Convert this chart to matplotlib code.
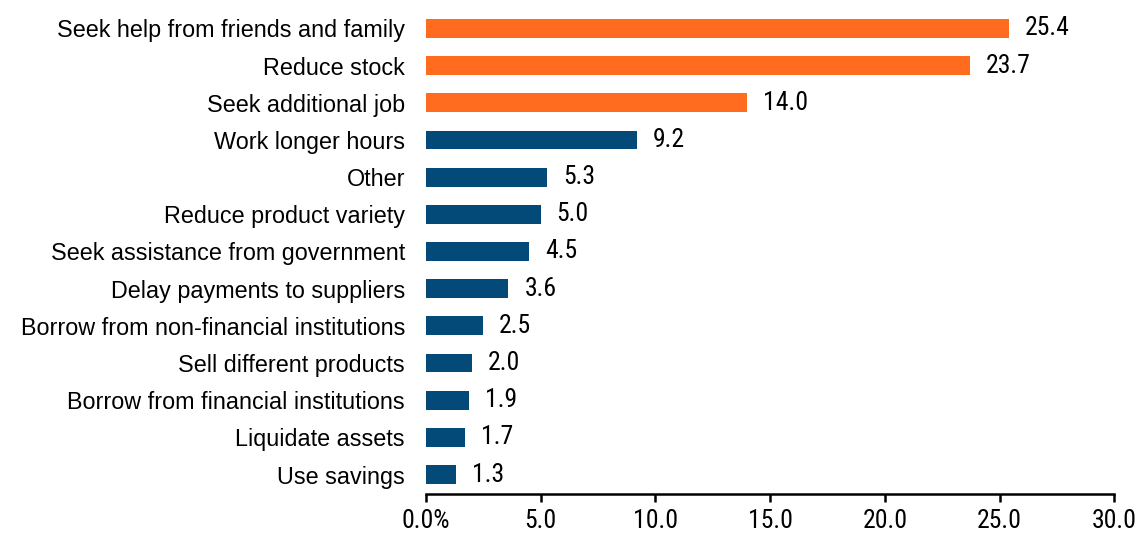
import matplotlib.pyplot as plt

categories = [
    "Seek help from friends and family",
    "Reduce stock",
    "Seek additional job",
    "Work longer hours",
    "Other",
    "Reduce product variety",
    "Seek assistance from government",
    "Delay payments to suppliers",
    "Borrow from non-financial institutions",
    "Sell different products",
    "Borrow from financial institutions",
    "Liquidate assets",
    "Use savings",
]
shares = [25.4, 23.7, 14.0, 9.2, 5.3, 5.0, 4.5, 3.6, 2.5, 2.0, 1.9, 1.7, 1.3]
highlight_count = 3
x_ticks = [0, 5, 10, 15, 20, 25, 30]
x_tick_labels = ["0.0%", "5.0", "10.0", "15.0", "20.0", "25.0", "30.0"]

ORANGE = "#ff6b1f"
NAVY = "#034a78"
LABEL_FONT = ["Liberation Sans", "DejaVu Sans"]
NUMBER_FONT = ["Roboto Condensed", "Archivo Narrow", "Liberation Sans", "DejaVu Sans"]

fig = plt.figure(figsize=(11.39, 5.34), dpi=100)
ax = fig.add_axes([0.3738, 0.0758, 0.6045, 0.9057])

n = len(categories)
ypos = [n - 1 - i for i in range(n)]
colors = [ORANGE if i < highlight_count else NAVY for i in range(n)]
ax.barh(ypos, shares, height=0.51, color=colors)

# value labels just past the end of each bar
for y, v in zip(ypos, shares):
    ax.annotate(f"{v:.1f}", xy=(v, y), xytext=(11.5, 0), textcoords="offset points",
                va="center", ha="left", fontsize=18.5, family=NUMBER_FONT,
                color="black")

ax.set_yticks(ypos)
ax.set_yticklabels(categories, family=LABEL_FONT, fontsize=16.8)
ax.tick_params(axis="y", length=0, pad=15)

ax.set_xlim(0, 30)
ax.set_ylim(-0.511, n - 0.5)
ax.set_xticks(x_ticks)
ax.set_xticklabels(x_tick_labels, family=NUMBER_FONT, fontsize=18.5)
ax.tick_params(axis="x", direction="out", length=6, width=1.8, pad=5)

for side in ["top", "right", "left"]:
    ax.spines[side].set_visible(False)
ax.spines["bottom"].set_linewidth(1.8)

fig.savefig("out.png", dpi=100)
